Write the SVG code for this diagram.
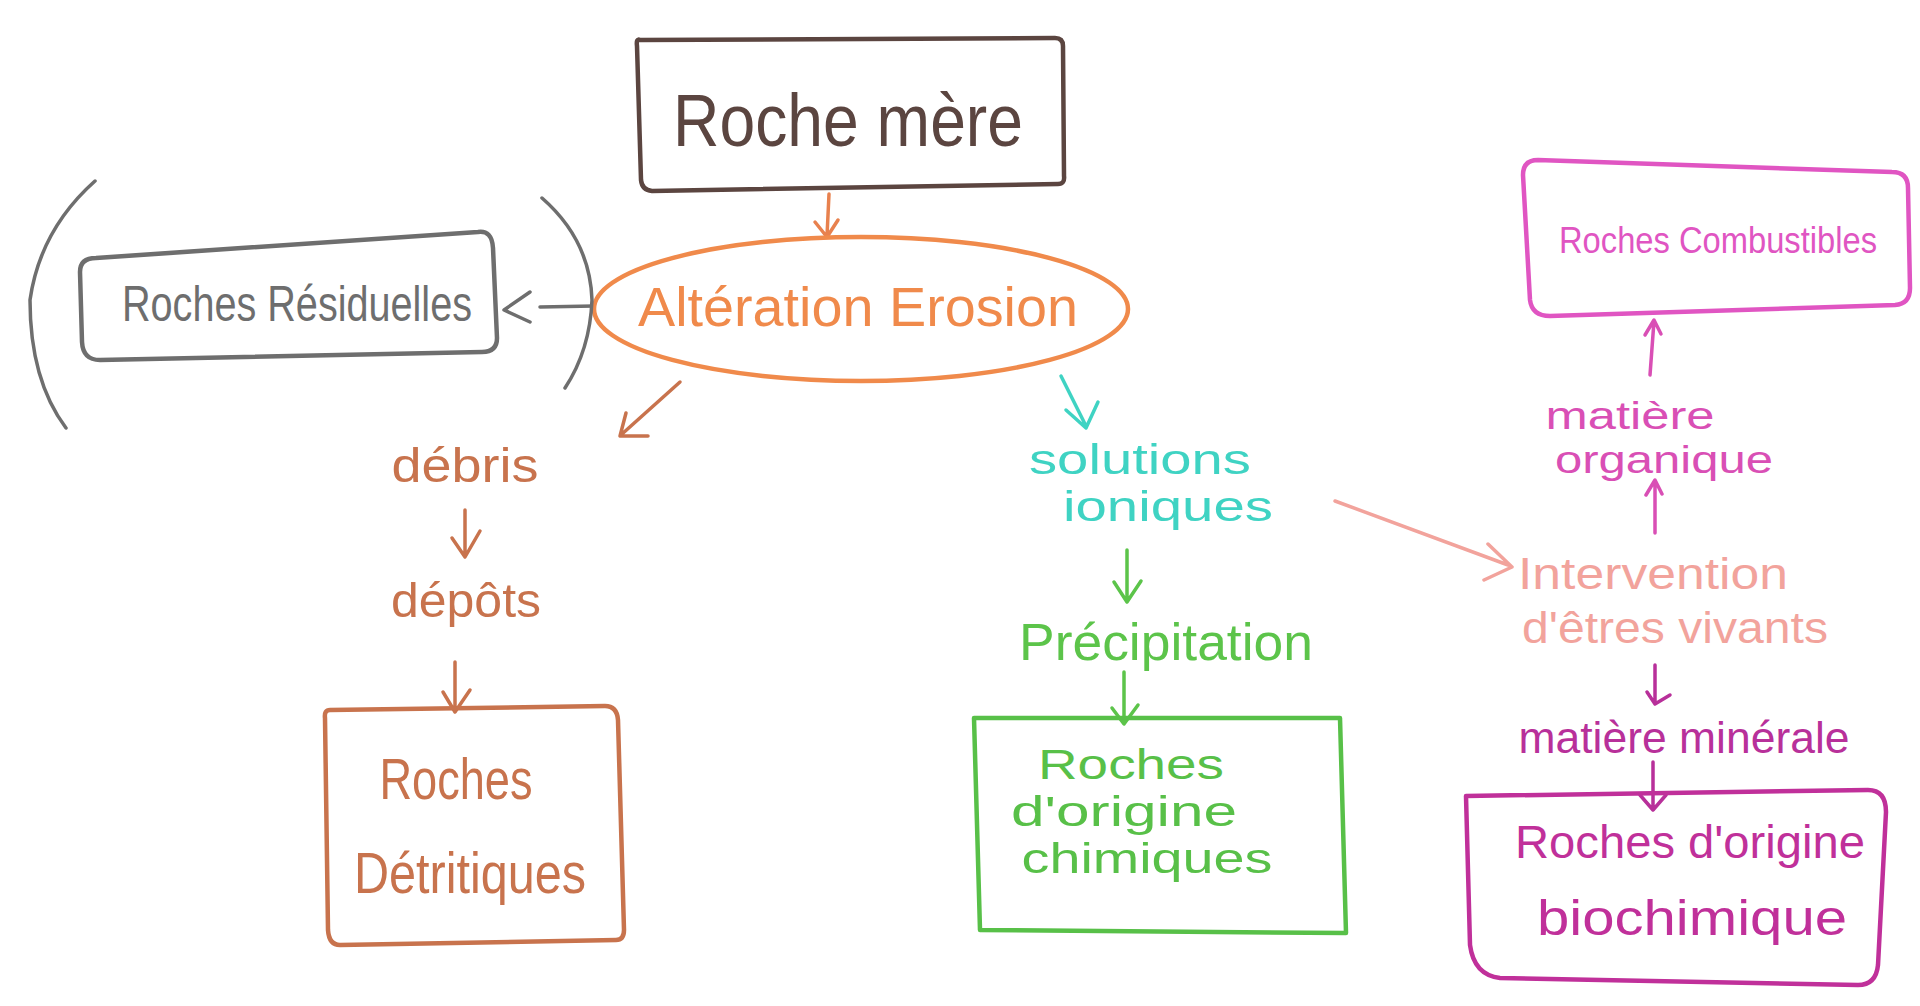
<svg xmlns="http://www.w3.org/2000/svg" width="1920" height="1006" viewBox="0 0 1920 1006">
<style>
  text { font-family: "Liberation Sans", "Noto Sans", sans-serif; text-anchor: middle; dominant-baseline: central; }
  .box { fill: none; stroke-width: 4.5; stroke-linejoin: round; stroke-linecap: round; }
  .ln { fill: none; stroke-width: 3.5; stroke-linecap: round; stroke-linejoin: round; }
</style>
<rect x="0" y="0" width="1920" height="1006" fill="#ffffff"/>

<g id="connectors">
  <!-- Roche mere -> Alteration -->
  <path class="ln" stroke="#e8814e" d="M829 194 L827 236 M815 222 L827 237 L838 220"/>
  <!-- Alteration -> Residuelles -->
  <path class="ln" stroke="#6e6e6e" stroke-width="5" d="M594 306 L540 307 M530 292 L504 310 L530 322"/>
  <!-- Alteration -> debris -->
  <path class="ln" stroke="#c8734d" d="M680 382 L622 434 M626 413 L620 436 L648 436"/>
  <!-- debris -> depots -->
  <path class="ln" stroke="#c8734d" d="M465 510 L465 555 M452 538 L465 557 L480 531"/>
  <!-- depots -> detritiques -->
  <path class="ln" stroke="#c8734d" d="M455 662 L455 710 M443 692 L455 712 L470 690"/>
  <!-- Alteration -> solutions -->
  <path class="ln" stroke="#3fd3c3" d="M1061 376 L1086 426 M1066 410 L1086 428 L1098 402"/>
  <!-- solutions -> precipitation -->
  <path class="ln" stroke="#5cc44a" d="M1127 550 L1127 600 M1114 582 L1127 602 L1141 581"/>
  <!-- precipitation -> chimiques -->
  <path class="ln" stroke="#5cc44a" d="M1124 672 L1124 722 M1112 708 L1124 724 L1138 705"/>
  <!-- solutions -> intervention -->
  <path class="ln" stroke="#f2a39c" d="M1335 501 L1508 565 M1488 544 L1512 567 L1484 580"/>
  <!-- intervention -> matiere organique -->
  <path class="ln" stroke="#d94fb5" d="M1655 533 L1655 482 M1646 495 L1655 480 L1662 494"/>
  <!-- matiere organique -> combustibles -->
  <path class="ln" stroke="#d94fb5" d="M1650 375 L1654 321 M1645 335 L1654 320 L1661 334"/>
  <!-- intervention -> matiere minerale -->
  <path class="ln" stroke="#b8309a" d="M1655 665 L1655 702 M1647 692 L1655 704 L1670 695"/>
  <!-- matiere minerale -> biochimique -->
  <path class="ln" stroke="#b8309a" d="M1653 762 L1653 808 M1640 795 L1653 810 L1666 795"/>
</g>

<g id="roche-mere">
  <path class="box" stroke="#5b4540" d="M640 40 Q636 38 637 46 L641 180 Q642 190 652 191 L1058 184 Q1065 184 1064 176 L1063 46 Q1063 38 1055 38 Z"/>
  <text x="848" y="120" font-size="74" fill="#5b4540" textLength="350" lengthAdjust="spacingAndGlyphs">Roche mère</text>
</g>

<g id="alteration-erosion">
  <ellipse cx="861" cy="309" rx="267" ry="72" fill="none" stroke="#f08a4b" stroke-width="4.5"/>
  <text x="858" y="306" font-size="56" fill="#f08a4b" textLength="440" lengthAdjust="spacingAndGlyphs">Altération Erosion</text>
</g>

<g id="roches-residuelles">
  <path class="box" stroke="#6e6e6e" d="M96 258 Q80 258 80 272 L82 342 Q83 360 100 360 L482 352 Q497 352 497 338 L493 248 Q492 230 478 232 Z"/>
  <path class="ln" stroke="#6e6e6e" d="M95 181 Q40 230 30 300 Q30 380 66 428"/>
  <path class="ln" stroke="#6e6e6e" d="M542 198 Q590 240 592 300 Q590 350 565 388"/>
  <text x="297" y="304" font-size="50" fill="#6e6e6e" textLength="350" lengthAdjust="spacingAndGlyphs">Roches Résiduelles</text>
</g>

<g id="debris">
  <text x="465" y="465" font-size="48" fill="#c8734d" textLength="147" lengthAdjust="spacingAndGlyphs">débris</text>
</g>

<g id="depots">
  <text x="466" y="600" font-size="48" fill="#c8734d" textLength="150" lengthAdjust="spacingAndGlyphs">dépôts</text>
</g>

<g id="roches-detritiques">
  <path class="box" stroke="#c8734d" d="M330 710 Q324 710 325 718 L328 930 Q329 945 340 945 L616 940 Q624 940 624 930 L618 720 Q617 706 605 706 Z"/>
  <text x="456" y="778" font-size="58" fill="#c8734d" textLength="153" lengthAdjust="spacingAndGlyphs">Roches</text>
  <text x="470" y="872" font-size="58" fill="#c8734d" textLength="232" lengthAdjust="spacingAndGlyphs">Détritiques</text>
</g>

<g id="solutions-ioniques">
  <text x="1140" y="459" font-size="42" fill="#3fd3c3" textLength="222" lengthAdjust="spacingAndGlyphs">solutions</text>
  <text x="1168" y="506" font-size="42" fill="#3fd3c3" textLength="210" lengthAdjust="spacingAndGlyphs">ioniques</text>
</g>

<g id="precipitation">
  <text x="1166" y="642" font-size="52" fill="#5cc44a" textLength="294" lengthAdjust="spacingAndGlyphs">Précipitation</text>
</g>

<g id="roches-chimiques">
  <path class="box" stroke="#58c048" d="M974 718 L980 930 L1346 933 L1340 718 Z"/>
  <text x="1131" y="764" font-size="42" fill="#58c048" textLength="186" lengthAdjust="spacingAndGlyphs">Roches</text>
  <text x="1124" y="811" font-size="42" fill="#58c048" textLength="226" lengthAdjust="spacingAndGlyphs">d'origine</text>
  <text x="1147" y="858" font-size="42" fill="#58c048" textLength="251" lengthAdjust="spacingAndGlyphs">chimiques</text>
</g>

<g id="intervention">
  <text x="1653" y="573" font-size="44" fill="#f2a39c" textLength="270" lengthAdjust="spacingAndGlyphs">Intervention</text>
  <text x="1675" y="627" font-size="44" fill="#f2a39c" textLength="306" lengthAdjust="spacingAndGlyphs">d'êtres vivants</text>
</g>

<g id="matiere-organique">
  <text x="1630" y="416" font-size="38" fill="#d94fb5" textLength="169" lengthAdjust="spacingAndGlyphs">matière</text>
  <text x="1664" y="460" font-size="38" fill="#d94fb5" textLength="218" lengthAdjust="spacingAndGlyphs">organique</text>
</g>

<g id="roches-combustibles">
  <path class="box" stroke="#e055c2" d="M1538 160 Q1523 160 1523 175 L1530 300 Q1532 316 1550 316 L1895 305 Q1910 304 1910 288 L1908 188 Q1908 172 1892 172 Z"/>
  <text x="1718" y="240" font-size="36" fill="#e055c2" textLength="318" lengthAdjust="spacingAndGlyphs">Roches Combustibles</text>
</g>

<g id="matiere-minerale">
  <text x="1684" y="737" font-size="44" fill="#b8309a" textLength="331" lengthAdjust="spacingAndGlyphs">matière minérale</text>
</g>

<g id="roches-biochimique">
  <path class="box" stroke="#c0309a" d="M1466 796 L1470 945 Q1474 975 1500 978 L1858 985 Q1876 985 1878 965 L1886 812 Q1886 790 1868 790 Z"/>
  <text x="1690" y="842" font-size="46" fill="#c0309a" textLength="350" lengthAdjust="spacingAndGlyphs">Roches d'origine</text>
  <text x="1692" y="918" font-size="50" fill="#c0309a" textLength="310" lengthAdjust="spacingAndGlyphs">biochimique</text>
</g>
</svg>
